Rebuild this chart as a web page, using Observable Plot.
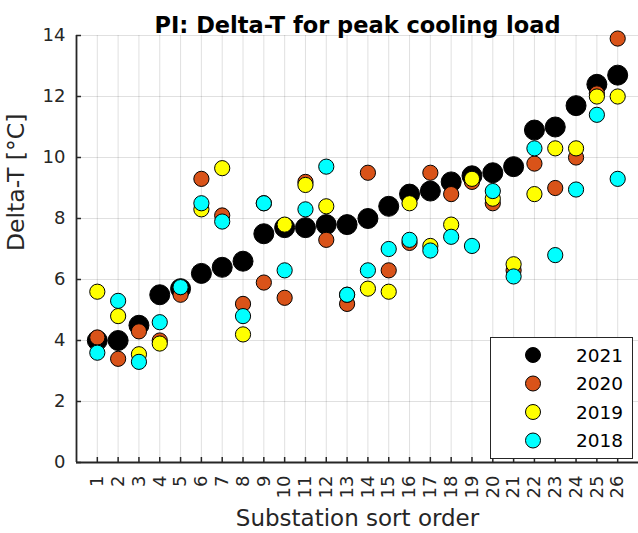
<!DOCTYPE html>
<html>
<head>
<meta charset="utf-8">
<script src="https://cdn.jsdelivr.net/npm/d3@7"></script>
<script src="https://cdn.jsdelivr.net/npm/@observablehq/plot@0.6"></script>
<style>
  body { margin: 0; background: #fff; }
  #chart { width: 638px; height: 533px; }
</style>
</head>
<body>
<div id="chart"></div>
<script>
// substation sort order and Delta-T [°C] per year
const order = [1, 2, 3, 4, 5, 6, 7, 8, 9, 10, 11, 12, 13, 14, 15, 16, 17, 18, 19, 20, 21, 22, 23, 24, 25, 26];
const dt2021 = [4.0, 4.0, 4.5, 5.5, 5.7, 6.2, 6.4, 6.6, 7.5, 7.7, 7.7, 7.8, 7.8, 8.0, 8.4, 8.8, 8.9, 9.2, 9.4, 9.5, 9.7, 10.9, 11.0, 11.7, 12.4, 12.7];
const dt2020 = [4.1, 3.4, 4.3, 4.0, 5.5, 9.3, 8.1, 5.2, 5.9, 5.4, 9.2, 7.3, 5.2, 9.5, 6.3, 7.2, 9.5, 8.8, 9.2, 8.5, 6.3, 9.8, 9.0, 10.0, 12.1, 13.9];
const dt2019 = [5.6, 4.8, 3.55, 3.9, 5.75, 8.3, 9.65, 4.2, 8.5, 7.8, 9.1, 8.4, 5.5, 5.7, 5.6, 8.5, 7.1, 7.8, 9.3, 8.65, 6.5, 8.8, 10.3, 10.3, 12.0, 12.0];
const dt2018 = [3.6, 5.3, 3.3, 4.6, 5.75, 8.5, 7.9, 4.8, 8.5, 6.3, 8.3, 9.7, 5.5, 6.3, 7.0, 7.3, 6.95, 7.4, 7.1, 8.9, 6.1, 10.3, 6.8, 8.95, 11.4, 9.3];

const years = ["2021", "2020", "2019", "2018"];
const colors = ["#000000", "#D95319", "#FFFF00", "#00FFFF"];
const yTicks = [0, 2, 4, 6, 8, 10, 12, 14];

const series = [dt2021, dt2020, dt2019, dt2018];
const rows = series.flatMap((vals, i) =>
  vals.map((v, j) => ({ order: order[j], value: v, year: years[i] }))
);

const font = "'DejaVu Sans', Verdana, sans-serif";
const axisColor = "#262626";
const W = 638, H = 533;
const mL = 76, mT = 35, mB = 71, mR = 0;
const plotW = W - mL - mR, plotH = H - mT - mB;

const plot = Plot.plot({
  width: W,
  height: H,
  marginLeft: mL,
  marginTop: mT,
  marginBottom: mB,
  marginRight: mR,
  style: { fontFamily: font, background: "#fff", overflow: "visible" },
  x: { domain: [0, 27] },
  y: { domain: [0, 14] },
  marks: [
    Plot.gridX(order, { stroke: axisColor, strokeOpacity: 0.14 }),
    Plot.gridX([27], { stroke: axisColor, strokeOpacity: 0.14 }),
    Plot.gridY(yTicks, { stroke: axisColor, strokeOpacity: 0.14 }),
    // inward ticks
    Plot.ruleX(order, { x: d => d, insetTop: plotH - 5, stroke: axisColor, strokeWidth: 1.5 }),
    Plot.ruleY(yTicks, { y: d => d, insetRight: plotW - 5, stroke: axisColor, strokeWidth: 1.5 }),
    Plot.ruleX([0], { stroke: axisColor, strokeWidth: 1.8 }),
    Plot.ruleY([0], { stroke: axisColor, strokeWidth: 1.8 }),
    Plot.axisX(order, {
      tickSize: 0, tickPadding: 13, tickRotate: -90, label: null,
      fontSize: 18, fill: axisColor
    }),
    Plot.axisY(yTicks, {
      tickSize: 0, tickPadding: 11, label: null,
      fontSize: 18, fill: axisColor
    }),
    Plot.dot(rows.filter(d => d.year === "2021"), {
      x: "order", y: "value", r: 10, fill: colors[0], stroke: "#000", strokeWidth: 1
    }),
    ...years.slice(1).map((yr, i) =>
      Plot.dot(rows.filter(d => d.year === yr), {
        x: "order", y: "value", r: 7.6, fill: colors[i + 1], stroke: "#000", strokeWidth: 1
      })
    ),
    Plot.text(["PI: Delta-T for peak cooling load"], {
      frameAnchor: "top", dy: -18, fontSize: 22.5, fontWeight: "bold", fill: "#000"
    }),
    Plot.text(["Substation sort order"], {
      frameAnchor: "bottom", dy: 63, fontSize: 23, fill: axisColor
    }),
    Plot.text(["Delta-T [°C]"], {
      frameAnchor: "left", dx: -60, dy: 2, rotate: -90, fontSize: 23.5, fill: axisColor
    })
  ]
});

// legend box in the lower right corner
const svg = d3.select(plot);
const lg = svg.append("g").attr("font-family", font);
lg.append("rect")
  .attr("x", 490.5).attr("y", 337.5)
  .attr("width", 142).attr("height", 121)
  .attr("fill", "#fff").attr("stroke", axisColor).attr("stroke-width", 1);
years.forEach((yr, i) => {
  const cy = 355 + i * 28.5;
  lg.append("circle")
    .attr("cx", 533).attr("cy", cy).attr("r", 7.5)
    .attr("fill", colors[i]).attr("stroke", "#000").attr("stroke-width", 1);
  lg.append("text")
    .attr("x", 623).attr("y", cy).attr("dy", "0.36em")
    .attr("text-anchor", "end").attr("font-size", 18.5).attr("fill", "#000")
    .text(yr);
});

document.getElementById("chart").append(plot);
</script>
</body>
</html>
